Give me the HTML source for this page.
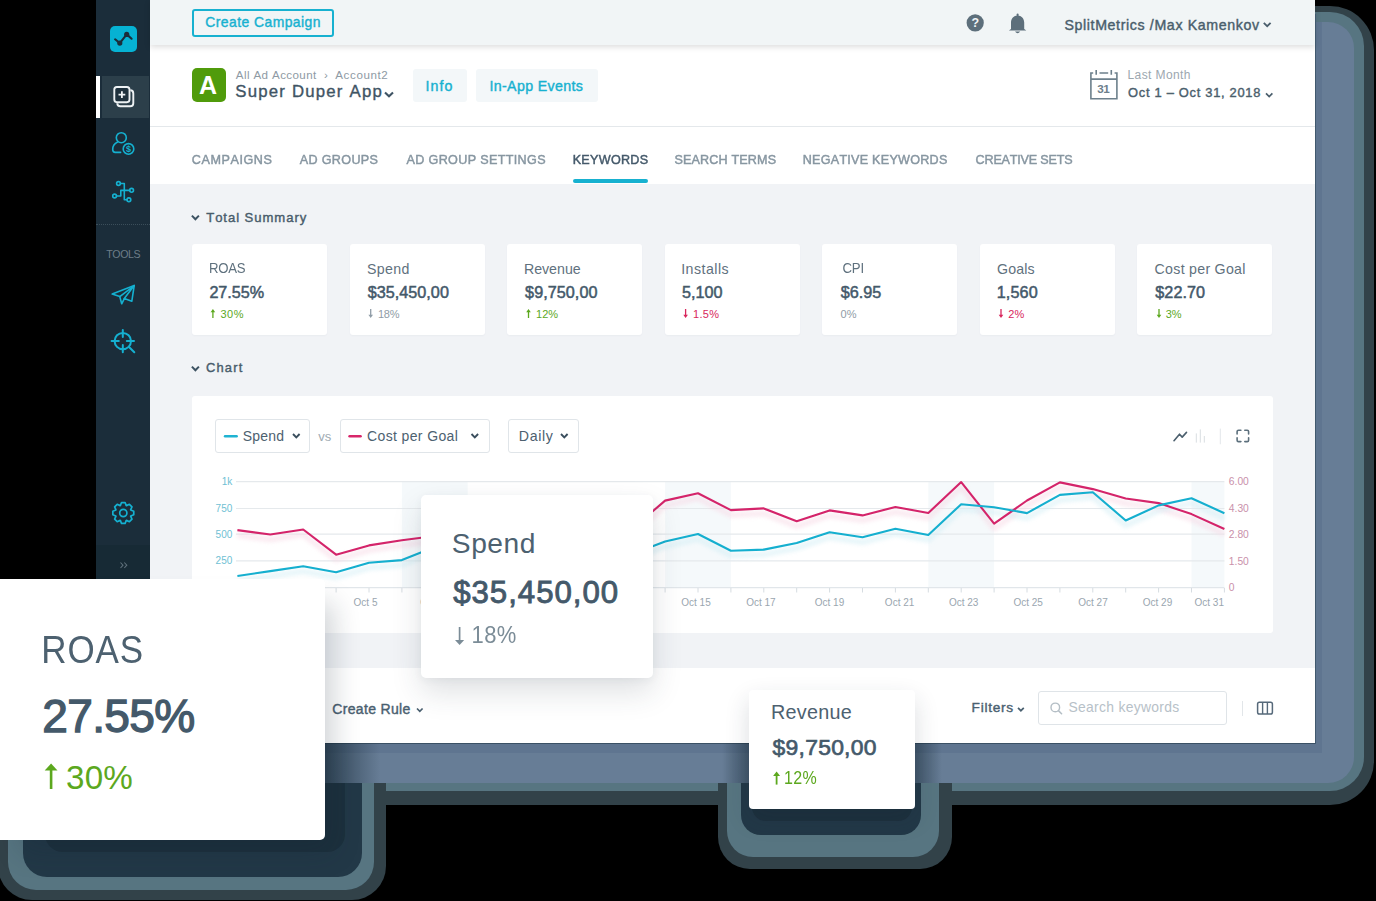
<!DOCTYPE html>
<html><head><meta charset="utf-8">
<style>
*{margin:0;padding:0;box-sizing:border-box}
html,body{width:1376px;height:901px;overflow:hidden;background:#000;font-family:"Liberation Sans",sans-serif;font-kerning:none}
.a{position:absolute}
.t{position:absolute;white-space:nowrap;line-height:1}
.b{font-weight:bold}
.sb{-webkit-text-stroke-width:0.4px}
.dk{color:#44596a}
.cy{color:#17b1d0}
.card{position:absolute;top:244px;width:135px;height:91px;background:#fff;border-radius:3px;box-shadow:0 1px 2px rgba(60,80,100,.04)}
.lab{font-size:14.2px;color:#5f717e;top:261.5px}
.val{font-size:16.2px;color:#44596a;top:284.4px;-webkit-text-stroke-width:0.5px}
.dl{font-size:11px;top:308.5px}
.green{color:#5ca81e}.red{color:#d8265c}.gray{color:#8f9ca6}
.tab{top:153.8px;font-size:12.6px;color:#8796a1;-webkit-text-stroke:0.45px #8796a1;transform:scaleY(1.06);transform-origin:0 10.67px}
.dd{position:absolute;top:419px;height:34px;background:#fff;border:1px solid #e0e5e9;border-radius:3px}
.ax{font-size:10px;color:#9aa6af}
</style></head><body>

<!-- ===== dashboard shadow (flattened) ===== -->
<div class="a" style="left:150px;top:6px;width:1224px;height:799px;background:#324249;border-radius:44px"></div>
<div class="a" style="left:150px;top:11.5px;width:1214px;height:779.5px;background:#577581;border-radius:34px"></div>
<div class="a" style="left:150px;top:22px;width:1204px;height:761px;background:#677d96;border-radius:26px"></div>
<div class="a" style="left:150px;top:22px;width:1172px;height:731px;background:#5f7590"></div>

<!-- ===== sidebar ===== -->
<div class="a" style="left:96px;top:0;width:54px;height:743px;background:#1b2d3a"></div>
<div class="a" style="left:102px;top:76px;width:47px;height:42px;background:#2c3f4a"></div>
<div class="a" style="left:96px;top:76px;width:4px;height:42px;background:#fff"></div>
<div class="a" style="left:110px;top:25.5px;width:26.6px;height:26.8px;background:#06b2d3;border-radius:5px"></div>
<div class="a" style="left:96px;top:224px;width:54px;height:0;border-top:1px dotted #3b4e5a"></div>
<div class="t" style="left:106.3px;top:249.4px;font-size:10.6px;letter-spacing:-0.4px;color:#6d7d88">TOOLS</div>
<div class="a" style="left:96px;top:545px;width:54px;height:198px;background:#172a35"></div>

<!-- ===== main ===== -->
<div class="a" style="left:150px;top:0;width:1165px;height:743px;background:#f1f3f6"></div>
<div class="a" style="left:150px;top:45px;width:1165px;height:139px;background:#fff"></div>
<div class="a" style="left:150px;top:126px;width:1165px;height:1px;background:#e4e8eb"></div>
<div class="a" style="left:150px;top:0;width:1165px;height:45px;background:#f1f5f6;box-shadow:0 2px 6px rgba(0,0,0,.14)"></div>

<!-- top bar -->
<div class="a" style="left:192px;top:9px;width:142px;height:28px;border:2px solid #17b1d0;border-radius:3px"></div>
<div class="t sb cy" style="left:205.2px;top:16.1px;font-size:13.9px;letter-spacing:0.46px">Create Campaign</div>
<div class="t sb" style="left:1064.4px;top:17.6px;font-size:14.2px;letter-spacing:0.63px;color:#4a5e6c">SplitMetrics /Max Kamenkov</div>

<!-- app header -->
<div class="a" style="left:192px;top:68px;width:34px;height:34px;background:#509b0b;border-radius:5px"></div>
<div class="t b" style="left:199px;top:72.5px;font-size:25px;color:#fff">A</div>
<div class="t" style="left:235.8px;top:69.1px;font-size:11.6px;letter-spacing:0.39px;color:#8e9aa4">All Ad Account</div>
<div class="t" style="left:324px;top:69.1px;font-size:11.6px;color:#8e9aa4">›</div>
<div class="t" style="left:335.3px;top:69.1px;font-size:11.6px;letter-spacing:0.59px;color:#8e9aa4">Account2</div>
<div class="t" style="left:235.3px;top:84.3px;font-size:16.8px;letter-spacing:1.2px;color:#3f5464;-webkit-text-stroke:0.35px #3f5464">Super Duper App</div>
<div class="a" style="left:413px;top:69px;width:54px;height:33px;background:#f3f7f9;border-radius:3px"></div>
<div class="t sb cy" style="left:425.4px;top:78.7px;font-size:14.2px;letter-spacing:1.08px">Info</div>
<div class="a" style="left:476px;top:69px;width:122px;height:33px;background:#f3f7f9;border-radius:3px"></div>
<div class="t sb cy" style="left:489.4px;top:78.7px;font-size:14.2px;letter-spacing:0.37px">In-App Events</div>
<div class="t" style="left:1127.5px;top:68.8px;font-size:12px;letter-spacing:0.4px;color:#9ca7af">Last Month</div>
<div class="t sb" style="left:1128.1px;top:87.3px;font-size:12.9px;letter-spacing:0.7px;color:#4a5e6c">Oct 1 – Oct 31, 2018</div>

<!-- tabs -->
<div class="t tab" style="left:191.8px;letter-spacing:0.57px">CAMPAIGNS</div>
<div class="t tab" style="left:299.7px;letter-spacing:0.34px">AD GROUPS</div>
<div class="t tab" style="left:406.5px;letter-spacing:0.34px">AD GROUP SETTINGS</div>
<div class="t tab" style="left:572.7px;letter-spacing:0.28px;color:#44596a;-webkit-text-stroke-color:#44596a">KEYWORDS</div>
<div class="t tab" style="left:674.5px;letter-spacing:0.14px">SEARCH TERMS</div>
<div class="t tab" style="left:802.7px;letter-spacing:0.25px">NEGATIVE KEYWORDS</div>
<div class="t tab" style="left:975.6px;letter-spacing:-0.2px">CREATIVE SETS</div>
<div class="a" style="left:573px;top:179px;width:75px;height:4px;background:#17b1d0;border-radius:2px"></div>

<div class="t sb" style="left:206.2px;top:211.4px;font-size:13.1px;letter-spacing:0.94px;color:#485c6b">Total Summary</div>
<div class="t sb" style="left:206px;top:362.3px;font-size:12.9px;letter-spacing:1.18px;color:#485c6b">Chart</div>

<!-- summary cards -->
<div class="card" style="left:192px"></div>
<div class="card" style="left:349.5px"></div>
<div class="card" style="left:507px"></div>
<div class="card" style="left:664.5px"></div>
<div class="card" style="left:822px"></div>
<div class="card" style="left:979.5px"></div>
<div class="card" style="left:1137px"></div>
<div class="t lab" style="left:208.9px;top:262.4px;font-size:13.2px;letter-spacing:-0.24px;transform:scaleY(1.07);transform-origin:0 11.18px">ROAS</div>
<div class="t lab" style="left:367.1px;letter-spacing:0.31px">Spend</div>
<div class="t lab" style="left:523.9px;letter-spacing:0px">Revenue</div>
<div class="t lab" style="left:681.2px;letter-spacing:0.47px">Installs</div>
<div class="t lab" style="left:842.4px;top:262.4px;font-size:13.2px;letter-spacing:-0.06px;transform:scaleY(1.07);transform-origin:0 11.18px">CPI</div>
<div class="t lab" style="left:997.1px;letter-spacing:0.12px">Goals</div>
<div class="t lab" style="left:1154.6px;letter-spacing:0.27px">Cost per Goal</div>
<div class="t val" style="left:209.4px;letter-spacing:-0.04px">27.55%</div>
<div class="t val" style="left:367.7px;letter-spacing:0.02px">$35,450,00</div>
<div class="t val" style="left:525.1px;letter-spacing:0.04px">$9,750,00</div>
<div class="t val" style="left:682.0px;letter-spacing:-0.03px">5,100</div>
<div class="t val" style="left:840.8px;letter-spacing:0.01px">$6.95</div>
<div class="t val" style="left:996.7px;letter-spacing:0.12px">1,560</div>
<div class="t val" style="left:1155.3px;letter-spacing:0.04px">$22.70</div>
<div class="t dl green" style="left:220.6px;letter-spacing:0.4px">30%</div>
<div class="t dl gray" style="left:377.9px;letter-spacing:-0.24px">18%</div>
<div class="t dl green" style="left:536px;letter-spacing:0.06px">12%</div>
<div class="t dl red" style="left:693px;letter-spacing:0.35px">1.5%</div>
<div class="t dl gray" style="left:840.4px;letter-spacing:0.32px">0%</div>
<div class="t dl red" style="left:1008.2px;letter-spacing:0.25px">2%</div>
<div class="t dl green" style="left:1165.8px;letter-spacing:-0.09px">3%</div>

<!-- chart panel -->
<div class="a" style="left:192px;top:396px;width:1081px;height:237px;background:#fff;border-radius:3px"></div>
<div class="dd" style="left:215px;width:95px"></div>
<div class="dd" style="left:339.5px;width:150px"></div>
<div class="dd" style="left:508.4px;width:70.3px"></div>
<div class="t" style="left:242.7px;top:428.8px;font-size:14px;letter-spacing:0.21px;color:#4d6170">Spend</div>
<div class="t" style="left:318.2px;top:429.8px;font-size:13px;color:#a0abb3">vs</div>
<div class="t" style="left:367.1px;top:428.8px;font-size:14px;letter-spacing:0.36px;color:#4d6170">Cost per Goal</div>
<div class="t" style="left:518.8px;top:428.6px;font-size:14.2px;letter-spacing:0.63px;color:#4d6170">Daily</div>

<!-- toolbar -->
<div class="a" style="left:150px;top:668px;width:1165px;height:75px;background:#fff"></div>
<div class="a" style="left:150px;top:743px;width:1165px;height:1px;background:#3b5165"></div>
<div class="a" style="left:1315px;top:14px;width:1px;height:730px;background:#41596e"></div>
<div class="t sb" style="left:332.3px;top:702.1px;font-size:14px;letter-spacing:0.32px;color:#4a6070">Create Rule</div>
<div class="t sb" style="left:971.6px;top:701.3px;font-size:13.7px;letter-spacing:0.72px;color:#4a6070">Filters</div>
<div class="a" style="left:1038px;top:691px;width:189px;height:34px;border:1px solid #dfe4e8;border-radius:3px;background:#fff"></div>
<div class="t" style="left:1068.4px;top:701.2px;font-size:13.9px;letter-spacing:0.31px;color:#b7c1c8">Search keywords</div>
<div class="a" style="left:1242px;top:701px;width:1px;height:15px;background:#e2e6e9"></div>

<!-- ===== SVG layer: icons + chart ===== -->
<svg class="a" style="left:0;top:0" width="1376" height="901" viewBox="0 0 1376 901" fill="none">
  <defs><filter id="bl" x="-5%" y="-50%" width="110%" height="200%"><feGaussianBlur stdDeviation="2"/></filter></defs>
  <!-- logo line -->
  <polyline points="115.1,39.3 119.8,43.1 126.7,34.4 131.6,38.7" stroke="#1b2d3a" stroke-width="2.1" stroke-linecap="round" stroke-linejoin="round"/>
  <circle cx="119.8" cy="43.1" r="2.6" fill="#1b2d3a"/>
  <circle cx="126.7" cy="34.4" r="2.6" fill="#1b2d3a"/>
  <!-- add-copy icon -->
  <path d="M130.3,90.2 Q133.3,90.2 133.3,93.4 L133.3,103.3 Q133.3,106.3 130.3,106.3 L120.3,106.3 Q117.3,106.3 117.3,103.3" stroke="#eef2f4" stroke-width="1.9"/>
  <rect x="114.3" y="87" width="15.2" height="15.2" rx="2.6" fill="#1f313d" stroke="#eef2f4" stroke-width="1.9"/>
  <path d="M121.9,91.2 V98 M118.5,94.6 H125.3" stroke="#eef2f4" stroke-width="1.8"/>
  <!-- person dollar -->
  <g stroke="#15b0d0" stroke-width="1.6" stroke-linecap="round">
    <circle cx="121.3" cy="137.7" r="5"/>
    <path d="M117.6,142.1 C114.6,143.4 112.7,146.3 112.7,149.6 Q112.7,152.4 115.3,152.4 L120.6,152.4"/>
    <circle cx="128.5" cy="148.9" r="5.3"/>
  </g>
  <text x="128.5" y="152.2" font-family="Liberation Sans" font-weight="bold" font-size="9" fill="#15b0d0" text-anchor="middle">$</text>
  <!-- network -->
  <g stroke="#15b0d0" stroke-width="1.6" stroke-linecap="round" stroke-linejoin="round">
    <circle cx="118.5" cy="183.5" r="1.9"/>
    <circle cx="131.6" cy="190.3" r="1.9"/>
    <circle cx="114.6" cy="196" r="1.9"/>
    <circle cx="128.9" cy="199.8" r="1.9"/>
    <polyline points="120.4,183.5 124.3,183.5 124.3,199.7 127,199.7"/>
    <polyline points="129.7,190.4 120.8,190.4 120.8,196 116.5,196"/>
  </g>
  <!-- paper plane -->
  <g stroke="#15b0d0" stroke-width="1.6" stroke-linejoin="round" stroke-linecap="round">
    <path d="M134.2,285.6 L112.2,294.1 L119.8,296.6 L121.7,303.8 L124.3,298.6 L131.8,301.3 Z"/>
    <path d="M134.2,285.6 L119.8,296.6 M134.2,285.6 L124.3,298.6"/>
  </g>
  <!-- crosshair -->
  <g stroke="#15b0d0" stroke-width="2" stroke-linecap="round">
    <circle cx="122.8" cy="341.1" r="8.2"/>
    <path d="M122.8,330 V337 M122.8,345 V352.3 M111.6,341.1 H118.8 M126.8,341.1 H134 M129,347 L134.3,352.2"/>
  </g>
  <!-- gear -->
  <g transform="translate(123.3,513)">
    <path id="gear" d="M-2.97,-7.43 L-1.79,-10.45 L1.79,-10.45 L2.97,-7.43 L3.16,-7.35 L6.12,-8.66 L8.66,-6.12 L7.35,-3.16 L7.43,-2.97 L10.45,-1.79 L10.45,1.79 L7.43,2.97 L7.35,3.16 L8.66,6.12 L6.12,8.66 L3.16,7.35 L2.97,7.43 L1.79,10.45 L-1.79,10.45 L-2.97,7.43 L-3.16,7.35 L-6.12,8.66 L-8.66,6.12 L-7.35,3.16 L-7.43,2.97 L-10.45,1.79 L-10.45,-1.79 L-7.43,-2.97 L-7.35,-3.16 L-8.66,-6.12 L-6.12,-8.66 L-3.16,-7.35 Z" stroke="#15b0d0" stroke-width="1.7" stroke-linejoin="round"/>
    <circle cx="0" cy="0" r="3.6" stroke="#15b0d0" stroke-width="1.7"/>
  </g>
  <!-- collapse -->
  <path d="M120.5,562.5 L123,565.2 L120.5,568 M124.3,562.5 L126.8,565.2 L124.3,568" stroke="#5f707b" stroke-width="1.1"/>

  <!-- header icons -->
  <circle cx="975.2" cy="22.8" r="8.6" fill="#5d6f7b"/>
  <text x="975.2" y="27.3" font-family="Liberation Sans" font-weight="bold" font-size="12.5" fill="#f2f5f7" text-anchor="middle">?</text>
  <path d="M1011,29 L1011,22.5 C1011,18.5 1013.8,15.6 1017.6,15.6 C1021.4,15.6 1024.2,18.5 1024.2,22.5 L1024.2,29 L1026.3,30.5 L1008.9,30.5 Z" fill="#5d6f7b"/>
  <path d="M1015,31.5 Q1017.6,35 1020.2,31.5 Z" fill="#5d6f7b"/>
  <rect x="1016.6" y="13.6" width="2" height="3" rx="1" fill="#5d6f7b"/>
  <path d="M1263.8,22.8 L1267.2,26.2 L1270.6,22.8" stroke="#4a5e6c" stroke-width="1.8"/>
  <!-- app chevron -->
  <path d="M385,92.4 L389,96.2 L393,92.4" stroke="#3f5464" stroke-width="2.1"/>
  <!-- calendar -->
  <g stroke="#6d808c" stroke-width="1.6">
    <path d="M1093.2,73 H1090.9 V98.7 H1116.9 V73 H1114.6 M1099.5,73 H1108.2 M1090.9,79.1 H1116.9 M1096.2,70 V74.8 M1111.3,70 V74.8"/>
  </g>
  <text x="1103.3" y="93.2" font-family="Liberation Sans" font-weight="bold" font-size="11.7" fill="#6d808c" text-anchor="middle" letter-spacing="-0.5">31</text>
  <path d="M1266,93.4 L1269.2,96.5 L1272.4,93.4" stroke="#4a5e6c" stroke-width="1.7"/>
  <!-- section chevrons -->
  <path d="M191.9,215.6 L195.4,219.2 L198.9,215.6" stroke="#3d5262" stroke-width="2"/>
  <path d="M191.9,366.6 L195.4,370.2 L198.9,366.6" stroke="#3d5262" stroke-width="2"/>

  <!-- card arrows -->
  <g stroke-width="1.3">
    <path d="M212.9,318 V311" stroke="#5ca81e"/><path d="M210.6,312.2 L212.9,309 L215.2,312.2 Z" fill="#5ca81e" stroke="none"/>
    <path d="M370.7,309 V316" stroke="#8f9ca6"/><path d="M368.4,314.8 L370.7,318 L373,314.8 Z" fill="#8f9ca6" stroke="none"/>
    <path d="M528.5,318 V311" stroke="#5ca81e"/><path d="M526.2,312.2 L528.5,309 L530.8,312.2 Z" fill="#5ca81e" stroke="none"/>
    <path d="M685.6,309 V316" stroke="#d8265c"/><path d="M683.3,314.8 L685.6,318 L687.9,314.8 Z" fill="#d8265c" stroke="none"/>
    <path d="M1001,309 V316" stroke="#d8265c"/><path d="M998.7,314.8 L1001,318 L1003.3,314.8 Z" fill="#d8265c" stroke="none"/>
    <path d="M1159,309 V316" stroke="#5ca81e"/><path d="M1156.7,314.8 L1159,318 L1161.3,314.8 Z" fill="#5ca81e" stroke="none"/>
  </g>

  <!-- dropdown decorations -->
  <path d="M225,436.3 H236.7" stroke="#1fb3d2" stroke-width="2.4" stroke-linecap="round"/>
  <path d="M349.5,436.3 H360.6" stroke="#d8266a" stroke-width="2.4" stroke-linecap="round"/>
  <path d="M293,434 L296.3,437.3 L299.6,434" stroke="#3a4e5d" stroke-width="1.9"/>
  <path d="M471.5,434 L474.8,437.3 L478.1,434" stroke="#3a4e5d" stroke-width="1.9"/>
  <path d="M561,434 L564.3,437.3 L567.6,434" stroke="#3a4e5d" stroke-width="1.9"/>

  <!-- chart tool icons -->
  <polyline points="1174,440.7 1179.5,434.2 1182.2,437.1 1186.5,432.4" stroke="#4b5f6d" stroke-width="1.6" stroke-linecap="round" stroke-linejoin="round"/>
  <path d="M1196.3,433.4 V442.6 M1200.3,429.4 V442.6 M1204.3,436 V442.6" stroke="#d9dee2" stroke-width="1"/>
  <path d="M1220.3,428.6 V444.3" stroke="#e3e7ea" stroke-width="1"/>
  <path d="M1237.1,434 V431.6 Q1237.1,430.2 1238.5,430.2 H1240.9 M1244.8,430.2 H1247.2 Q1248.6,430.2 1248.6,431.6 V434 M1248.6,437.8 V440.2 Q1248.6,441.6 1247.2,441.6 H1244.8 M1240.9,441.6 H1238.5 Q1237.1,441.6 1237.1,440.2 V437.8" stroke="#5d707d" stroke-width="1.6" stroke-linecap="round"/>

  <!-- chart -->
  <g id="chart"><rect x="401.9" y="482" width="65.8" height="106" fill="#f5f9fb"/>
<rect x="665.1" y="482" width="65.8" height="106" fill="#f5f9fb"/>
<rect x="928.3" y="482" width="65.8" height="106" fill="#f5f9fb"/>
<rect x="1191.5" y="482" width="32.9" height="106" fill="#f5f9fb"/>
<path d="M236,481.7 H1224.4" stroke="#e5e9ec" stroke-width="1.2"/>
<path d="M236,508.5 H1224.4" stroke="#e5e9ec" stroke-width="1.2"/>
<path d="M236,534.2 H1224.4" stroke="#e5e9ec" stroke-width="1.2"/>
<path d="M236,560.9 H1224.4" stroke="#e5e9ec" stroke-width="1.2"/>
<path d="M236,587.6 H1224.4" stroke="#e1e6ea" stroke-width="1.2"/>
<path d="M237.4,588 V592.5 M270.3,588 V592.5 M303.2,588 V592.5 M336.1,588 V592.5 M369.0,588 V592.5 M401.9,588 V592.5 M434.8,588 V592.5 M467.7,588 V592.5 M500.6,588 V592.5 M533.5,588 V592.5 M566.4,588 V592.5 M599.3,588 V592.5 M632.2,588 V592.5 M665.1,588 V592.5 M698.0,588 V592.5 M730.9,588 V592.5 M763.8,588 V592.5 M796.7,588 V592.5 M829.6,588 V592.5 M862.5,588 V592.5 M895.4,588 V592.5 M928.3,588 V592.5 M961.2,588 V592.5 M994.1,588 V592.5 M1027.0,588 V592.5 M1059.9,588 V592.5 M1092.8,588 V592.5 M1125.7,588 V592.5 M1158.6,588 V592.5 M1191.5,588 V592.5 M1224.4,588 V592.5" stroke="#d6dce1" stroke-width="1"/>
<polyline points="237.4,535.1 270.3,539.5 303.2,534.5 336.1,559.7 369.0,550.4 401.9,545.2 434.8,541.0 467.7,535.0 500.6,529.0 533.5,537.0 566.4,525.0 599.3,531.0 632.2,534.0 665.1,505.6 698.0,498.3 730.9,515.1 763.8,513.4 796.7,526.3 829.6,515.4 862.5,520.4 895.4,512.0 928.3,518.0 961.2,487.1 994.1,528.7 1027.0,505.5 1059.9,487.4 1092.8,494.1 1125.7,503.5 1158.6,508.1 1191.5,519.1 1224.4,534.0" stroke="#f7d9e5" stroke-width="5" stroke-linejoin="round" opacity="0.6" filter="url(#bl)"/>
<polyline points="237.4,581.0 270.3,576.1 303.2,571.3 336.1,577.3 369.0,567.8 401.9,565.1 434.8,552.0 467.7,557.0 500.6,550.0 533.5,553.0 566.4,545.0 599.3,555.0 632.2,559.0 665.1,546.5 698.0,539.0 730.9,555.8 763.8,554.6 796.7,548.0 829.6,537.2 862.5,542.3 895.4,533.7 928.3,540.0 961.2,509.2 994.1,512.3 1027.0,518.1 1059.9,499.9 1092.8,497.2 1125.7,525.5 1158.6,510.4 1191.5,503.2 1224.4,518.2" stroke="#d3eef5" stroke-width="5" stroke-linejoin="round" opacity="0.6" filter="url(#bl)"/>
<polyline points="237.4,530.1 270.3,534.5 303.2,529.5 336.1,554.7 369.0,545.4 401.9,540.2 434.8,536.0 467.7,530.0 500.6,524.0 533.5,532.0 566.4,520.0 599.3,526.0 632.2,529.0 665.1,500.6 698.0,493.3 730.9,510.1 763.8,508.4 796.7,521.3 829.6,510.4 862.5,515.4 895.4,507.0 928.3,513.0 961.2,482.1 994.1,523.7 1027.0,500.5 1059.9,482.4 1092.8,489.1 1125.7,498.5 1158.6,503.1 1191.5,514.1 1224.4,529.0" stroke="#d4246a" stroke-width="2.1" stroke-linejoin="round"/>
<polyline points="237.4,576.0 270.3,571.1 303.2,566.3 336.1,572.3 369.0,562.8 401.9,560.1 434.8,547.0 467.7,552.0 500.6,545.0 533.5,548.0 566.4,540.0 599.3,550.0 632.2,554.0 665.1,541.5 698.0,534.0 730.9,550.8 763.8,549.6 796.7,543.0 829.6,532.2 862.5,537.3 895.4,528.7 928.3,535.0 961.2,504.2 994.1,507.3 1027.0,513.1 1059.9,494.9 1092.8,492.2 1125.7,520.5 1158.6,505.4 1191.5,498.2 1224.4,513.2" stroke="#15afcf" stroke-width="2.1" stroke-linejoin="round"/>
<text x="232.3" y="485.2" font-family="Liberation Sans" font-size="10" fill="#6fbfd4" text-anchor="end">1k</text>
<text x="232.3" y="512.0" font-family="Liberation Sans" font-size="10" fill="#6fbfd4" text-anchor="end">750</text>
<text x="232.3" y="537.7" font-family="Liberation Sans" font-size="10" fill="#6fbfd4" text-anchor="end">500</text>
<text x="232.3" y="564.4" font-family="Liberation Sans" font-size="10" fill="#6fbfd4" text-anchor="end">250</text>
<text x="1228.8" y="485.3" font-family="Liberation Sans" font-size="10.3" fill="#c990aa">6.00</text>
<text x="1228.8" y="512.1" font-family="Liberation Sans" font-size="10.3" fill="#c990aa">4.30</text>
<text x="1228.8" y="537.8" font-family="Liberation Sans" font-size="10.3" fill="#c990aa">2.80</text>
<text x="1228.8" y="564.5" font-family="Liberation Sans" font-size="10.3" fill="#c990aa">1.50</text>
<text x="1228.8" y="591.2" font-family="Liberation Sans" font-size="10.3" fill="#c990aa">0</text>
<text x="234.9" y="606.2" font-family="Liberation Sans" font-size="10" fill="#9aa6af" text-anchor="middle">Oct 1</text>
<text x="300.7" y="606.2" font-family="Liberation Sans" font-size="10" fill="#9aa6af" text-anchor="middle">Oct 3</text>
<text x="365.5" y="606.2" font-family="Liberation Sans" font-size="10" fill="#9aa6af" text-anchor="middle">Oct 5</text>
<text x="432.3" y="606.2" font-family="Liberation Sans" font-size="10" fill="#9aa6af" text-anchor="middle">Oct 7</text>
<text x="498.1" y="606.2" font-family="Liberation Sans" font-size="10" fill="#9aa6af" text-anchor="middle">Oct 9</text>
<text x="563.9" y="606.2" font-family="Liberation Sans" font-size="10" fill="#9aa6af" text-anchor="middle">Oct 11</text>
<text x="629.7" y="606.2" font-family="Liberation Sans" font-size="10" fill="#9aa6af" text-anchor="middle">Oct 13</text>
<text x="696.0" y="606.2" font-family="Liberation Sans" font-size="10" fill="#9aa6af" text-anchor="middle">Oct 15</text>
<text x="760.9" y="606.2" font-family="Liberation Sans" font-size="10" fill="#9aa6af" text-anchor="middle">Oct 17</text>
<text x="829.5" y="606.2" font-family="Liberation Sans" font-size="10" fill="#9aa6af" text-anchor="middle">Oct 19</text>
<text x="899.6" y="606.2" font-family="Liberation Sans" font-size="10" fill="#9aa6af" text-anchor="middle">Oct 21</text>
<text x="963.7" y="606.2" font-family="Liberation Sans" font-size="10" fill="#9aa6af" text-anchor="middle">Oct 23</text>
<text x="1028.2" y="606.2" font-family="Liberation Sans" font-size="10" fill="#9aa6af" text-anchor="middle">Oct 25</text>
<text x="1093.0" y="606.2" font-family="Liberation Sans" font-size="10" fill="#9aa6af" text-anchor="middle">Oct 27</text>
<text x="1157.5" y="606.2" font-family="Liberation Sans" font-size="10" fill="#9aa6af" text-anchor="middle">Oct 29</text>
<text x="1224" y="606.4" font-family="Liberation Sans" font-size="10" fill="#9aa6af" text-anchor="end">Oct 31</text></g><!--endchart-->

  <!-- toolbar icons -->
  <path d="M417,708.5 L419.8,711.3 L422.6,708.5" stroke="#4a6070" stroke-width="1.7"/>
  <path d="M1018,707.8 L1020.9,710.7 L1023.8,707.8" stroke="#4a6070" stroke-width="1.7"/>
  <circle cx="1055.3" cy="707.4" r="4.3" stroke="#b4bec5" stroke-width="1.4"/>
  <path d="M1058.4,710.6 L1061.6,713.8" stroke="#b4bec5" stroke-width="1.5" stroke-linecap="round"/>
  <rect x="1257.6" y="702.3" width="14.8" height="11.8" rx="1.8" stroke="#56697a" stroke-width="1.5"/>
  <path d="M1262.6,702.3 V714.1 M1267.4,702.3 V714.1" stroke="#56697a" stroke-width="1.4"/>
</svg>

<!-- ===== overlay shadows (flattened) ===== -->
<!-- revenue -->
<div class="a" style="left:718px;top:783px;width:234px;height:86px;background:#324249;border-radius:0 0 32px 32px"></div>
<div class="a" style="left:727px;top:783px;width:212px;height:74px;background:#577581;border-radius:0 0 26px 26px"></div>
<div class="a" style="left:741px;top:783px;width:180px;height:52px;background:#223847;border-radius:0 0 20px 20px"></div>
<div class="a" style="left:752px;top:783px;width:160px;height:38px;background:#1c303d;border-radius:0 0 14px 14px"></div>
<div class="a" style="left:722px;top:743px;width:28px;height:40px;background:linear-gradient(to right,rgba(28,48,62,0),rgba(28,48,62,.55))"></div>
<div class="a" style="left:914px;top:743px;width:28px;height:40px;background:linear-gradient(to left,rgba(28,48,62,0),rgba(28,48,62,.55))"></div>
<!-- roas -->
<div class="a" style="left:325px;top:743px;width:55px;height:40px;background:linear-gradient(to left,rgba(28,48,62,0),rgba(28,48,62,.75))"></div>
<div class="a" style="left:-2px;top:783px;width:388px;height:117px;background:#324249;border-radius:0 0 34px 34px"></div>
<div class="a" style="left:8px;top:783px;width:366px;height:107px;background:#577581;border-radius:0 0 28px 28px"></div>
<div class="a" style="left:23px;top:783px;width:339px;height:94px;background:#223847;border-radius:0 0 24px 24px"></div>
<div class="a" style="left:45px;top:783px;width:300px;height:69px;background:#1c303d;border-radius:0 0 18px 18px"></div>

<!-- ===== Spend overlay ===== -->
<div class="a" style="left:421px;top:495px;width:232px;height:183px;background:#fff;border-radius:5px;box-shadow:0 14px 30px rgba(40,55,70,.15),0 2px 8px rgba(40,55,70,.05)"></div>
<div class="t" style="left:451.8px;top:528.9px;font-size:28.2px;letter-spacing:0.55px;color:#4d6170">Spend</div>
<div class="t" style="left:453.2px;top:576.7px;font-size:31.2px;letter-spacing:0.99px;color:#44596a;-webkit-text-stroke:0.9px #44596a">$35,450,00</div>
<div class="t" style="left:471.5px;top:625.1px;font-size:22px;letter-spacing:0.41px;color:#7b8c97;transform:scaleY(1.1);transform-origin:0 18.63px">18%</div>

<!-- ===== Revenue overlay ===== -->
<div class="a" style="left:749px;top:690px;width:166px;height:119px;background:#fff;border-radius:4px;box-shadow:0 10px 24px rgba(30,45,60,.16)"></div>
<div class="t" style="left:770.9px;top:702.7px;font-size:19.8px;letter-spacing:0.28px;color:#4d6170">Revenue</div>
<div class="t" style="left:772.6px;top:735.8px;font-size:22.9px;letter-spacing:0.25px;color:#44596a;-webkit-text-stroke:0.7px #44596a">$9,750,00</div>
<div class="t" style="left:784.1px;top:771.05px;font-size:16px;letter-spacing:0.28px;color:#5ca81e;transform:scaleY(1.12);transform-origin:0 13.55px">12%</div>

<!-- ===== ROAS overlay ===== -->
<div class="a" style="left:0;top:579px;width:325px;height:261px;background:#fff;border-radius:0 5px 5px 0;box-shadow:14px 18px 26px -6px rgba(20,35,50,.20)"></div>
<div class="t" style="left:41.3px;top:633.4px;font-size:35px;letter-spacing:0.83px;color:#4d6170;transform:scaleY(1.117);transform-origin:0 29.6px">ROAS</div>
<div class="t" style="left:42.3px;top:693.3px;font-size:46.1px;letter-spacing:-0.67px;color:#44596a;-webkit-text-stroke:1.3px #44596a">27.55%</div>
<div class="t" style="left:66.1px;top:760.5px;font-size:33.2px;letter-spacing:0.12px;color:#5ca81e">30%</div>

<svg class="a" style="left:0;top:0" width="1376" height="901" viewBox="0 0 1376 901" fill="none">
  <!-- big arrows -->
  <path d="M51.1,789 V769" stroke="#5ca81e" stroke-width="2.6"/>
  <path d="M44.7,770.4 L51.1,763.6 L57.5,770.4 Z" fill="#5ca81e"/>
  <path d="M459.6,627 V641" stroke="#7b8c97" stroke-width="1.7"/>
  <path d="M455,640 L459.6,645 L464.2,640 Z" fill="#7b8c97"/>
  <path d="M776.6,784.6 V775" stroke="#5ca81e" stroke-width="1.8"/>
  <path d="M773.1,776 L776.6,771.6 L780.1,776 Z" fill="#5ca81e"/>
</svg>

</body></html>
